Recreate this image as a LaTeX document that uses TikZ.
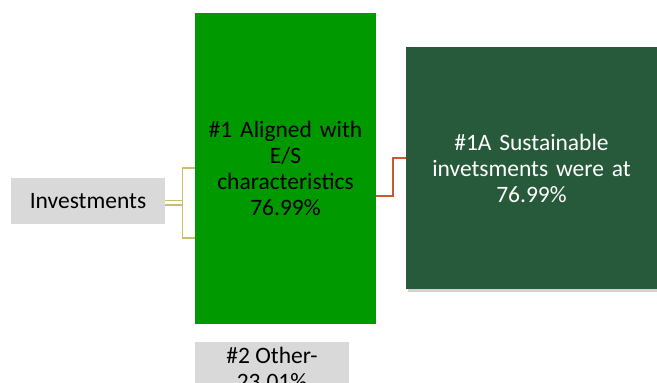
\documentclass[tikz,border=0pt]{standalone}
\usepackage{fontspec}
\setmainfont{Carlito}
\usetikzlibrary{shadows,calc}
\definecolor{boxgray}{HTML}{D9D9D9}
\definecolor{brightgreen}{HTML}{009A00}
\definecolor{darkgreen}{HTML}{265A3A}
\definecolor{khaki}{HTML}{C8BE6E}
\definecolor{rust}{HTML}{C55A32}
\tikzset{
  txt/.style={font=\fontsize{23.5}{26}\selectfont, align=center, inner sep=0pt},
  graybox/.style={fill=boxgray, draw=none, txt, text=black},
  greenbox/.style={fill=brightgreen, draw=none, txt, text=black},
  darkbox/.style={fill=darkgreen, draw=none, txt, text=white, drop shadow={shadow xshift=2pt, shadow yshift=-3pt, opacity=0.35}},
  yconn/.style={draw=khaki, line width=1.3pt},
  rconn/.style={draw=rust, line width=1.5pt},
}
\begin{document}
\begin{tikzpicture}[x=1pt,y=-1pt]
\useasboundingbox (0,0) rectangle (657,383);
\node[graybox, minimum width=154pt, minimum height=46pt] (inv) at (88,201) {Investments};
\node[greenbox, minimum width=181pt, minimum height=311pt, text width=175pt] (al) at (285.5,168.5) {\#1 Aligned with\\E/S\\characteristics\\76.99\%};
\node[darkbox, minimum width=251pt, minimum height=242pt, text width=240pt] (sus) at (531.5,168) {\#1A Sustainable\\invetsments were at\\76.99\%};
\node[graybox, minimum width=154pt, minimum height=46pt, anchor=north] (oth) at (272,342) {};
\node[txt, anchor=north] (othtxt) at (272,347) {\#2 Other-\\23.01\%};
% khaki bracket
\coordinate (bt) at (182.5,168);
\coordinate (bb) at (182.5,238);
\draw[yconn] (inv.east |- 0,200.7) -- (bt |- 0,200.7);
\draw[yconn] (inv.east |- 0,205) -- (bt |- 0,205);
\draw[yconn] (al.west |- bt) -- (bt) -- (bb) -- (al.west |- bb);
% rust connector
\coordinate (rm) at (393,196);
\draw[rconn] (al.east |- rm) -- (rm) -- (393,158) -- (sus.west |- 0,158);
\end{tikzpicture}
\end{document}
